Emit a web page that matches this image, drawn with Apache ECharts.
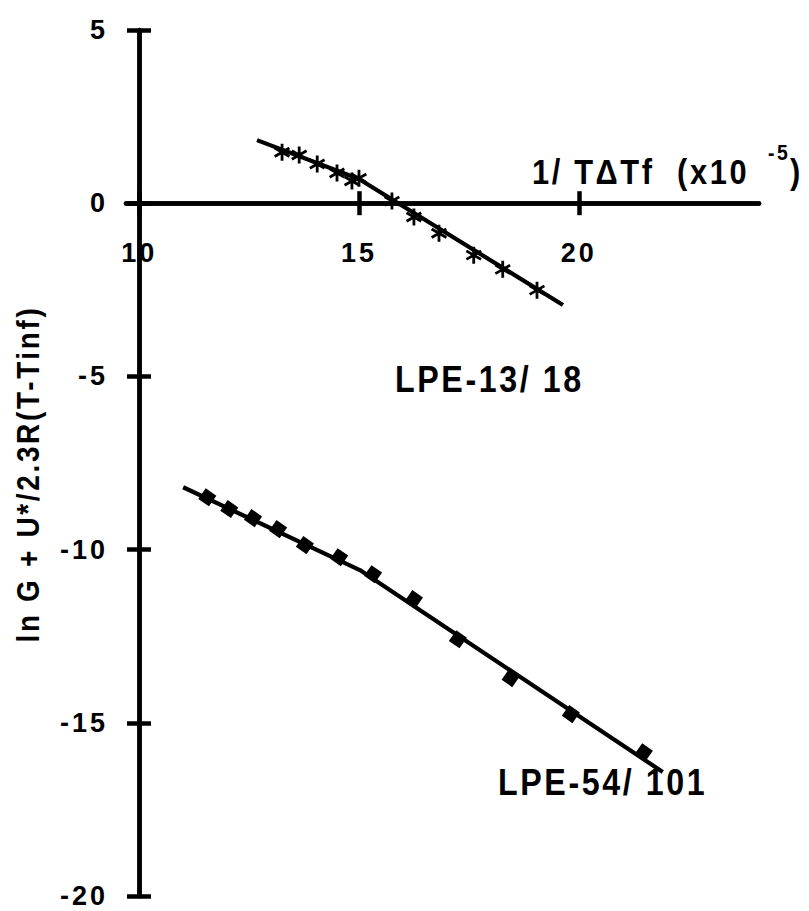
<!DOCTYPE html>
<html>
<head>
<meta charset="utf-8">
<script src="https://cdn.jsdelivr.net/npm/echarts@6/dist/echarts.min.js"></script>
<style>
  html, body { margin: 0; padding: 0; background: #fff; }
  #chart { width: 809px; height: 911px; }
  /* tracked lettering, as in the printed figure */
  #chart text { letter-spacing: 3px; }
</style>
</head>
<body>
<div id="chart"></div>
<script>
// Tick values on the horizontal axis (x10^-5)
const xTicks = [10, 15, 20];

// LPE-13/18 measurements
const lpe13X = [13.25, 13.64, 14.05, 14.5, 14.84, 15.0, 15.75, 16.25, 16.82, 17.61, 18.27, 19.05];
const lpe13Y = [1.47, 1.39, 1.13, 0.87, 0.64, 0.72, 0.06, -0.40, -0.87, -1.50, -1.91, -2.51];
// LPE-13/18 fitted line
const lpe13FitX = [12.68, 15.0, 19.64];
const lpe13FitY = [1.82, 0.70, -2.94];

// LPE-54/101 measurements
const lpe54X = [11.55, 12.05, 12.59, 13.16, 13.77, 14.55, 15.32, 16.25, 17.25, 18.45, 19.82, 21.48];
const lpe54Y = [-8.49, -8.83, -9.09, -9.41, -9.87, -10.22, -10.71, -11.43, -12.59, -13.71, -14.75, -15.85];
// LPE-54/101 fitted line
const lpe54FitX = [11.0, 15.02, 21.91];
const lpe54FitY = [-8.20, -10.59, -16.42];

const zip = (xs, ys) => xs.map((x, i) => [x, ys[i]]);

const FONT = "'Liberation Sans', Arial, sans-serif";
const INK = '#000';
const AXIS_W = 4.5;
const FIT_W = 4.2;

// plot frame in pixels
const GRID = { left: 126, top: 30, width: 633, height: 866 };
const Y_MIN = -20, Y_MAX = 5;
const zeroFromTop = GRID.height * (Y_MAX - 0) / (Y_MAX - Y_MIN);

const asterisk = 'path://M10,0 L10,20 M1.34,5 L18.66,15 M1.34,15 L18.66,5';

const chart = echarts.init(document.getElementById('chart'), null, { renderer: 'svg' });

const baseX = {
  type: 'value', min: 9.7, max: 24.1, gridIndex: 0,
  splitLine: { show: false },
  axisLine: { show: true, onZero: false, lineStyle: { color: INK, width: AXIS_W } }
};
const baseY = {
  type: 'value', min: Y_MIN, max: Y_MAX, interval: 5, gridIndex: 0,
  splitLine: { show: false },
  axisLine: { show: true, onZero: false, lineStyle: { color: INK, width: AXIS_W } }
};

const labelFont = { color: INK, fontSize: 27, fontWeight: 'bold', fontFamily: FONT };
const tickLine = { color: INK, width: AXIS_W };

chart.setOption({
  animation: false,
  backgroundColor: '#fff',
  grid: Object.assign({ containLabel: false, outerBoundsMode: 'none' }, GRID),
  xAxis: [
    // horizontal axis drawn through y = 0, ticks hanging below
    Object.assign({}, baseX, {
      position: 'bottom', offset: -(GRID.height - zeroFromTop),
      axisTick: { show: true, customValues: xTicks, length: 12, lineStyle: tickLine },
      axisLabel: Object.assign({ show: true, customValues: xTicks, margin: 36 }, labelFont)
    }),
    // same axis, ticks rising above
    Object.assign({}, baseX, {
      position: 'top', offset: -zeroFromTop,
      axisTick: { show: true, customValues: xTicks, length: 12, lineStyle: tickLine },
      axisLabel: { show: false }
    })
  ],
  yAxis: [
    Object.assign({}, baseY, {
      position: 'left', offset: -13,
      axisTick: { show: true, length: 12, lineStyle: tickLine },
      axisLabel: Object.assign({ show: true, margin: 31 }, labelFont)
    }),
    Object.assign({}, baseY, {
      position: 'right', offset: -(GRID.width - 13),
      axisTick: { show: true, length: 12, lineStyle: tickLine },
      axisLabel: { show: false }
    })
  ],
  series: [
    {
      name: 'LPE-13/18 fit', type: 'line', xAxisIndex: 0, yAxisIndex: 0,
      data: zip(lpe13FitX, lpe13FitY), showSymbol: false, silent: true,
      lineStyle: { color: INK, width: FIT_W }, z: 3
    },
    {
      name: 'LPE-13/18', type: 'scatter', xAxisIndex: 0, yAxisIndex: 0,
      data: zip(lpe13X, lpe13Y), symbol: asterisk, symbolSize: 17, symbolKeepAspect: true,
      itemStyle: { color: INK, borderColor: INK, borderWidth: 2.8, opacity: 1 }, z: 4
    },
    {
      name: 'LPE-54/101 fit', type: 'line', xAxisIndex: 0, yAxisIndex: 0,
      data: zip(lpe54FitX, lpe54FitY), showSymbol: false, silent: true,
      lineStyle: { color: INK, width: FIT_W }, z: 3
    },
    {
      name: 'LPE-54/101', type: 'scatter', xAxisIndex: 0, yAxisIndex: 0,
      data: zip(lpe54X, lpe54Y), symbol: 'rect', symbolSize: 13, symbolRotate: -35,
      itemStyle: { color: INK, opacity: 1 }, z: 4
    }
  ],
  graphic: [
    {
      type: 'text', x: 28, y: 474, rotation: Math.PI / 2, scaleX: 0.9,
      style: { text: 'ln G + U*/2.3R(T-Tinf)', fill: INK, align: 'center', verticalAlign: 'middle',
               fontSize: 31, fontWeight: 'bold', fontFamily: FONT }
    },
    {
      type: 'text', x: 532, y: 172, scaleX: 0.88,
      style: { text: '1/ T\u0394Tf  (x10', fill: INK, align: 'left', verticalAlign: 'middle',
               fontSize: 35, fontWeight: 'bold', fontFamily: FONT }
    },
    {
      type: 'text', x: 768, y: 152, scaleX: 0.88,
      style: { text: '-5', fill: INK, align: 'left', verticalAlign: 'middle',
               fontSize: 22, fontWeight: 'bold', fontFamily: FONT }
    },
    {
      type: 'text', x: 790, y: 172, scaleX: 0.88,
      style: { text: ')', fill: INK, align: 'left', verticalAlign: 'middle',
               fontSize: 35, fontWeight: 'bold', fontFamily: FONT }
    },
    {
      type: 'text', x: 395, y: 379, scaleX: 0.87,
      style: { text: 'LPE-13/ 18', fill: INK, align: 'left', verticalAlign: 'middle',
               fontSize: 37, fontWeight: 'bold', fontFamily: FONT }
    },
    {
      type: 'text', x: 498, y: 782, scaleX: 0.87,
      style: { text: 'LPE-54/ 101', fill: INK, align: 'left', verticalAlign: 'middle',
               fontSize: 37, fontWeight: 'bold', fontFamily: FONT }
    }
  ]
});
</script>
</body>
</html>
